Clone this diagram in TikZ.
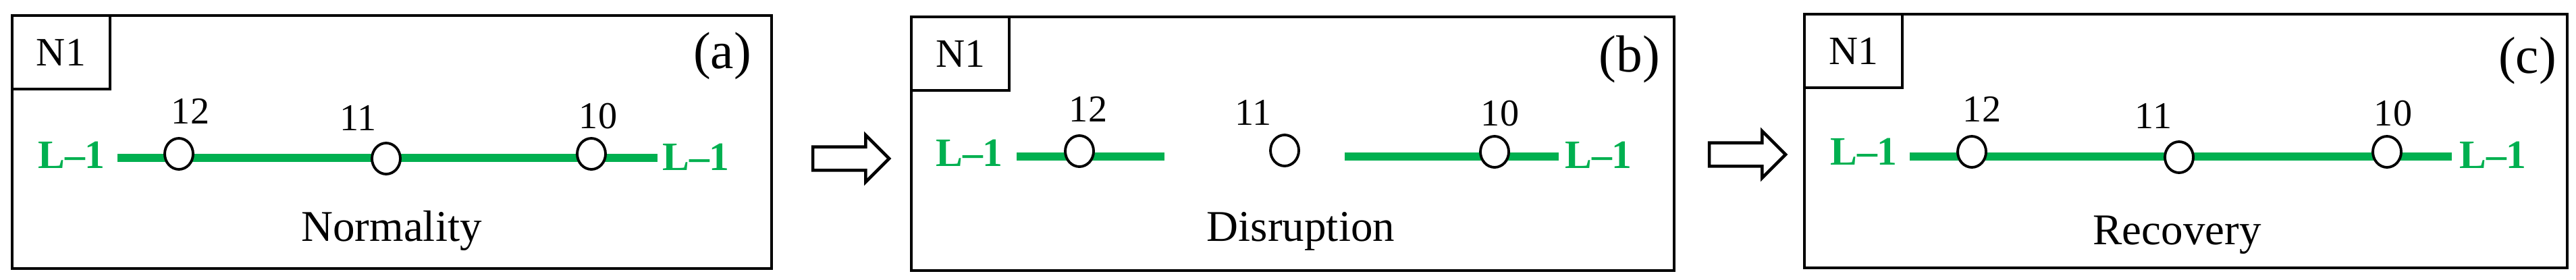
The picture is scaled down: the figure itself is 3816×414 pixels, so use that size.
\documentclass[tikz,border=0pt]{standalone}
\usepackage{fontspec}
\setmainfont{Liberation Serif}
\usetikzlibrary{positioning, calc, shapes, arrows}
\usepackage{xcolor}
\definecolor{routegreen}{RGB}{0,176,80}
\tikzset{panel/.style={draw, line width=1.2pt, inner sep=0pt, minimum width=113mm, minimum height=37.6mm}}
\tikzset{namebox/.style={draw, line width=1.2pt, inner sep=0pt, minimum width=14.5mm, minimum height=10.9mm, font=\fontsize{17pt}{17pt}\selectfont}}
\tikzset{station/.style={draw, ellipse, fill=white, line width=1.1pt, minimum width=4.2mm, minimum height=4.6mm, inner sep=0pt}}
\tikzset{stnum/.style={inner sep=0pt, font=\fontsize{16pt}{16pt}\selectfont}}
\tikzset{linename/.style={inner sep=0pt, text=routegreen, font=\bfseries\fontsize{17pt}{17pt}\selectfont}}
\tikzset{route/.style={routegreen, line width=3.4pt}}
\tikzset{tag/.style={inner sep=0pt, font=\fontsize{22pt}{22pt}\selectfont}}
\tikzset{state/.style={inner sep=0pt, font=\fontsize{18.5pt}{18.5pt}\selectfont}}
\tikzset{flow/.style={single arrow, draw, fill=white, line width=1.3pt, inner sep=0pt, inner ysep=1.5mm, single arrow head extend=1.75mm, minimum height=11.3mm}}

\begin{document}
\begin{tikzpicture}[x=0.1mm, y=-0.1mm]
      \useasboundingbox (0,0) rectangle (3816,414);

      % (a) normality
      \node[panel, minimum width=112.5mm, minimum height=37.5mm] (pa) at (580.5,210.5) {};
      \node[namebox, anchor=north west] (na) at (pa.north west) {N1};
      \node[tag] (ta) at (1070,83) {(a)};
      \coordinate (la) at (174,234);
      \coordinate (ra) at (974,234);
      \draw[route] (la) -- (ra);
      \node[station] (s12a) at (265,228) {};
      \node[station] (s11a) at (572,235) {};
      \node[station] (s10a) at (876,228) {};
      \node[stnum] (n12a) at (282,165) {12};
      \node[stnum] (n11a) at (531,175) {11};
      \node[stnum] (n10a) at (886,172) {10};
      \node[linename] (lna) at (106,230) {L--1};
      \node[linename] (rna) at (1031,233) {L--1};
      \node[state] (sta) at (580,342) {Normality};

      \node[flow] (arr1) at (1252,235) {};

      % (b) disruption
      \node[panel] (pb) at (1915,213) {};
      \node[namebox, anchor=north west] (nb) at (pb.north west) {N1};
      \node[tag] (tb) at (2414,88) {(b)};
      \coordinate (lb) at (1506,232);
      \coordinate (gb1) at (1725,232);
      \coordinate (gb2) at (1992,232);
      \coordinate (rb) at (2309,232);
      \draw[route] (lb) -- (gb1);
      \draw[route] (gb2) -- (rb);
      \node[station] (s12b) at (1599,224) {};
      \node[station] (s11b) at (1903,223) {};
      \node[station] (s10b) at (2214,225) {};
      \node[stnum] (n12b) at (1612,162) {12};
      \node[stnum] (n11b) at (1857,167) {11};
      \node[stnum] (n10b) at (2222,168) {10};
      \node[linename] (lnb) at (1436,227) {L--1};
      \node[linename] (rnb) at (2368,230) {L--1};
      \node[state] (stb) at (1927,343) {Disruption};

      \node[flow] (arr2) at (2580,229) {};

      % (c) recovery
      \node[panel] (pc) at (3238,209) {};
      \node[namebox, anchor=north west] (nc) at (pc.north west) {N1};
      \node[tag] (tc) at (3744,90) {(c)};
      \coordinate (lc) at (2829,232);
      \coordinate (rc) at (3632,232);
      \draw[route] (lc) -- (rc);
      \node[station] (s12c) at (2921,225) {};
      \node[station] (s11c) at (3228,233) {};
      \node[station] (s10c) at (3536,225) {};
      \node[stnum] (n12c) at (2936,162) {12};
      \node[stnum] (n11c) at (3190,172) {11};
      \node[stnum] (n10c) at (3545,168) {10};
      \node[linename] (lnc) at (2761,225) {L--1};
      \node[linename] (rnc) at (3693,230) {L--1};
      \node[state] (stc) at (3225,348) {Recovery};
    \end{tikzpicture}
\end{document}
